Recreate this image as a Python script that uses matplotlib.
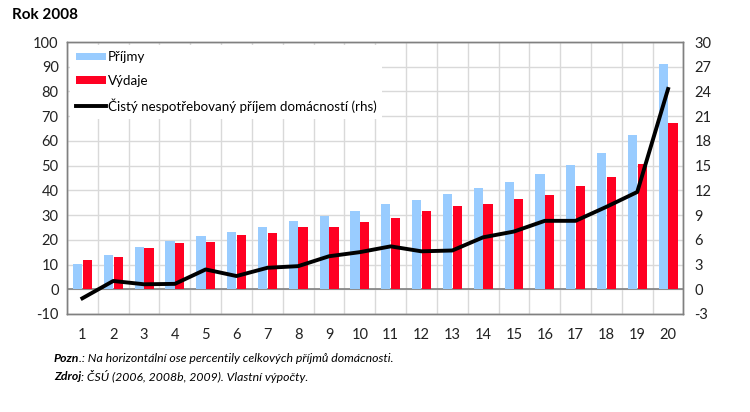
import matplotlib
matplotlib.use("Agg")
import matplotlib.pyplot as plt
import numpy as np
from matplotlib.patches import Patch
from matplotlib.lines import Line2D

plt.rcParams['font.family'] = ['Lato', 'DejaVu Sans']
plt.rcParams['axes.unicode_minus'] = False

categories = [str(i) for i in range(1, 21)]
prijmy = [10.4, 13.9, 16.9, 19.6, 21.5, 23.2, 25.2, 27.7, 29.8, 31.6,
          34.3, 36.0, 38.5, 41.0, 43.5, 46.7, 50.1, 55.0, 62.4, 91.0]
vydaje = [11.9, 13.0, 16.6, 18.6, 19.3, 22.0, 22.9, 25.0, 25.2, 27.1,
          28.8, 31.6, 33.7, 34.3, 36.3, 38.2, 41.8, 45.2, 50.5, 67.2]
cisty = [-1.1, 1.0, 0.6, 0.65, 2.4, 1.6, 2.6, 2.8, 4.0, 4.5,
         5.2, 4.6, 4.7, 6.3, 7.0, 8.3, 8.3, 10.0, 11.8, 24.3]
left_ticks = list(range(-10, 101, 10))
right_ticks = list(range(-3, 31, 3))

blue = '#99CCFF'
red = '#FF0022'

fig = plt.figure(figsize=(7.5, 4.12), dpi=100)
ax = fig.add_axes([0.0893, 0.238, 0.822, 0.66])
x = np.arange(1, len(categories) + 1)

ax.bar(x - 0.155, prijmy, width=0.3, color=blue, zorder=3)
ax.bar(x + 0.16, vydaje, width=0.3, color=red, zorder=3)

ax.set_xlim(0.5, len(categories) + 0.5)
ax.set_ylim(-10, 100)
ax.set_yticks(left_ticks)
ax.set_xticks(x)
ax.set_xticklabels(categories)
ax.set_xticks(np.arange(0.5, len(categories) + 1, 1), minor=True)
ax.tick_params(axis='both', which='both', length=0, labelsize=10.5, colors='#222222')
ax.tick_params(axis='x', pad=10)
ax.tick_params(axis='y', pad=6)
ax.grid(True, axis='y', color='#D9D9D9', lw=1, zorder=0)
ax.grid(True, axis='x', which='minor', color='#D9D9D9', lw=1, zorder=0)
ax.grid(False, axis='x', which='major')
ax.axhline(0, color='#808080', lw=1.2, zorder=2)
for s in ax.spines.values():
    s.set_color('#808080')
    s.set_linewidth(1)

ax2 = ax.twinx()
ax2.set_ylim(-3, 30)
ax2.set_yticks(right_ticks)
ax2.tick_params(axis='y', length=0, labelsize=10.5, colors='#222222', pad=8)
for s in ax2.spines.values():
    s.set_color('#808080')
    s.set_linewidth(1)
ax2.plot(x, cisty, color='black', lw=2.8, zorder=5)

handles = [Patch(facecolor=blue, edgecolor='none'),
           Patch(facecolor=red, edgecolor='none'),
           Line2D([0], [0], color='black', lw=2.8)]
labels = ['Příjmy', 'Výdaje', 'Čistý nespotřebovaný příjem domácností (rhs)']
leg = ax2.legend(handles, labels, loc='upper left', bbox_to_anchor=(0.0, 1.0),
                 frameon=True, facecolor='white', edgecolor='none', framealpha=1,
                 fancybox=False, fontsize=9.6, handlelength=2.2, handleheight=0.5,
                 labelspacing=0.85, borderpad=0.45, handletextpad=0.15,
                 borderaxespad=0.25)
leg.set_zorder(10)

fig.text(0.016, 0.963, 'Rok 2008', fontsize=11, fontweight='bold', va='center')

fig.canvas.draw()
renderer = fig.canvas.get_renderer()

def note(y, bold, rest):
    t = fig.text(0.072, y, bold, fontsize=8.8, style='italic', fontweight='bold', va='center')
    bb = t.get_window_extent(renderer)
    fig.text(bb.x1 / fig.bbox.width, y, rest, fontsize=8.8, style='italic', va='center')

note(0.131, 'Pozn', '.: Na horizontální ose percentily celkových příjmů domácnosti.')
note(0.087, 'Zdroj', ': ČSÚ (2006, 2008b, 2009). Vlastní výpočty.')

fig.savefig('out.png', dpi=100)
